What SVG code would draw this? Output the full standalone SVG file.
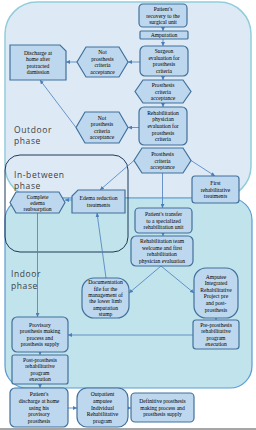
<svg xmlns="http://www.w3.org/2000/svg" width="256" height="430" viewBox="0 0 256 430">
<style>
.n{fill:#bdd7ee;stroke:#41719c;stroke-width:1.2}
.t{font-family:"Liberation Serif",serif;font-size:5.6px;text-anchor:middle;fill:#000}
.ph{font-family:"Open Sans","Liberation Sans",sans-serif;font-size:8.5px;fill:#404040;letter-spacing:0.6px}
.c{stroke:#4a7ebb;stroke-width:0.8;fill:none;marker-end:url(#a)}
</style>
<defs>
<marker id="a" markerUnits="userSpaceOnUse" markerWidth="4" markerHeight="4" refX="4" refY="2" orient="auto">
<path d="M0,0 L4,2 L0,4 z" fill="#4a7ebb"/>
</marker>
</defs>
<rect width="256" height="430" fill="#fff"/>
<g id="outdoor">
<rect x="5" y="2" width="246" height="196" rx="32" fill="#ddeaf6" stroke="#92cddc" stroke-width="1.5"/>
</g>
<g id="indoor">
<rect x="5" y="198" width="247" height="190" rx="22" fill="#c1e3eb" stroke="#5b9bd5" stroke-width="1.2"/>
</g>
<g id="inbetween">
<rect x="5" y="155" width="123" height="97" rx="15" fill="none" stroke="#1f3a5a" stroke-width="1"/>
</g>
<g id="labels">
<text class="ph" x="14" y="133">Outdoor</text>
<text class="ph" x="14" y="144">phase</text>
<text class="ph" x="14" y="178">In-between</text>
<text class="ph" x="14" y="189">phase</text>
<text class="ph" x="11" y="277">Indoor</text>
<text class="ph" x="11" y="289">phase</text>
</g>
<g id="connectors">
<line class="c" x1="163" y1="27" x2="163" y2="31"/>
<line class="c" x1="163" y1="39" x2="163" y2="46"/>
<line class="c" x1="163" y1="76" x2="163" y2="80"/>
<line class="c" x1="163" y1="103" x2="163" y2="107"/>
<line class="c" x1="140" y1="62" x2="128" y2="62"/>
<line class="c" x1="77" y1="62" x2="66" y2="62"/>
<line class="c" x1="139" y1="127.5" x2="128" y2="127.5"/>
<line class="c" x1="76" y1="127.5" x2="40" y2="80"/>
<line class="c" x1="191" y1="160.5" x2="215" y2="176"/>
<line class="c" x1="162.5" y1="173" x2="162.5" y2="208"/>
<line class="c" x1="134" y1="160.5" x2="100" y2="190"/>
<line class="c" x1="72" y1="200" x2="65" y2="200"/>
<line class="c" x1="37.5" y1="213" x2="37.5" y2="317"/>
<line class="c" x1="106" y1="278" x2="97" y2="213"/>
<line class="c" x1="163" y1="233" x2="163" y2="236"/>
<line class="c" x1="161" y1="266" x2="129" y2="293"/>
<line class="c" x1="161" y1="266" x2="194" y2="293"/>
<line class="c" x1="216" y1="318" x2="216" y2="320"/>
<line class="c" x1="193" y1="335" x2="68" y2="335"/>
<line class="c" x1="40" y1="352" x2="40" y2="355"/>
<line class="c" x1="40" y1="384" x2="40" y2="388"/>
<line class="c" x1="68" y1="408" x2="77" y2="408"/>
<line class="c" x1="128" y1="408" x2="131" y2="408"/>
</g>
<g id="n1"><rect class="n" x="139" y="4" width="48" height="23" rx="4"/>
<text class="t" x="163" y="10.9">Patient's</text><text class="t" x="163" y="17.5">recovery to the</text><text class="t" x="163" y="24.1">surgical unit</text></g>
<g id="n2"><rect class="n" x="140" y="31" width="48" height="8" rx="1"/>
<text class="t" x="164" y="37">Amputation</text></g>
<g id="n3"><rect class="n" x="140" y="46" width="48" height="30" rx="5"/>
<text class="t" x="164" y="53.1">Surgeon</text><text class="t" x="164" y="59.7">evaluation for</text><text class="t" x="164" y="66.3">prosthesis</text><text class="t" x="164" y="72.9">criteria</text></g>
<g id="n4"><polygon class="n" points="135,91.5 143,80 183,80 191,91.5 183,103 143,103"/>
<text class="t" x="163" y="86.9">Prosthesis</text><text class="t" x="163" y="93.5">criteria</text><text class="t" x="163" y="100.1">acceptance</text></g>
<g id="n5"><polygon class="n" points="77,62 86,47 119,47 128,62 119,77 86,77"/>
<text class="t" x="102.5" y="54.1">Not</text><text class="t" x="102.5" y="60.7">prosthesis</text><text class="t" x="102.5" y="67.3">criteria</text><text class="t" x="102.5" y="73.9">acceptance</text></g>
<g id="n6"><path class="n" d="M10,45 H60 L66,51 V80 H10 Z"/>
<text class="t" x="38" y="54.6">Discharge at</text><text class="t" x="38" y="61.2">home after</text><text class="t" x="38" y="67.8">protracted</text><text class="t" x="38" y="74.4">damission</text></g>
<g id="n7"><rect class="n" x="139" y="107" width="48" height="38" rx="5"/>
<text class="t" x="163" y="114.8">Rehabilitation</text><text class="t" x="163" y="121.4">physician</text><text class="t" x="163" y="128">evaluation for</text><text class="t" x="163" y="134.6">prosthesis</text><text class="t" x="163" y="141.2">criteria</text></g>
<g id="n8"><polygon class="n" points="76,127.5 85,112 119,112 128,127.5 119,143 85,143"/>
<text class="t" x="102" y="119.6">Not</text><text class="t" x="102" y="126.2">prosthesis</text><text class="t" x="102" y="132.8">criteria</text><text class="t" x="102" y="139.4">acceptance</text></g>
<g id="n9"><polygon class="n" points="134,160.5 142,148 183,148 191,160.5 183,173 142,173"/>
<text class="t" x="162.5" y="155.9">Prosthesis</text><text class="t" x="162.5" y="162.5">criteria</text><text class="t" x="162.5" y="169.1">acceptance</text></g>
<g id="n10"><rect class="n" x="192" y="176" width="47" height="27" rx="3"/>
<text class="t" x="215.5" y="184.9">First</text><text class="t" x="215.5" y="191.5">rehabilitative</text><text class="t" x="215.5" y="198.1">treatments</text></g>
<g id="n11"><path class="n" d="M78,190 H125 V213 H72 V196 Z"/>
<text class="t" x="98.5" y="200.2">Edema reduction</text><text class="t" x="98.5" y="206.8">treatments</text></g>
<g id="n12"><polygon class="n" points="10,202.5 16,192 59,192 65,202.5 59,213 16,213"/>
<text class="t" x="37.5" y="198.5">Complete</text><text class="t" x="37.5" y="204.5">edema</text><text class="t" x="37.5" y="210.5">reabsorption</text></g>
<g id="n13"><rect class="n" x="135" y="208" width="57" height="25" rx="4"/>
<text class="t" x="163.5" y="215.9">Patient's  transfer</text><text class="t" x="163.5" y="222.5">to a specialized</text><text class="t" x="163.5" y="229.1">rehabilitation unit</text></g>
<g id="n14"><rect class="n" x="131" y="236" width="62" height="30" rx="5"/>
<text class="t" x="162" y="243.1">Rehabilitation team</text><text class="t" x="162" y="249.7">welcome and first</text><text class="t" x="162" y="256.3">rehabilitation</text><text class="t" x="162" y="262.9">physician evaluation</text></g>
<g id="n15"><rect class="n" x="82" y="278" width="47" height="40" rx="12"/>
<text class="t" x="105.5" y="284.3">Documentation</text><text class="t" x="105.5" y="290.6">file for the</text><text class="t" x="105.5" y="296.9">management of</text><text class="t" x="105.5" y="303.2">the lower limb</text><text class="t" x="105.5" y="309.5">amputation</text><text class="t" x="105.5" y="315.8">stump</text></g>
<g id="n16"><rect class="n" x="194" y="268" width="44" height="50" rx="12"/>
<text class="t" x="216" y="278.5">Amputee</text><text class="t" x="216" y="285.1">Integrated</text><text class="t" x="216" y="291.7">Rehabilitative</text><text class="t" x="216" y="298.3">Project pre</text><text class="t" x="216" y="304.9">and post-</text><text class="t" x="216" y="311.5">prosthesis</text></g>
<g id="n17"><rect class="n" x="193" y="320" width="46" height="29" rx="3"/>
<text class="t" x="216" y="326.6">Pre-prosthesis</text><text class="t" x="216" y="333.2">rehabilitative</text><text class="t" x="216" y="339.8">program</text><text class="t" x="216" y="346.4">execution</text></g>
<g id="n18"><rect class="n" x="12" y="317" width="56" height="35" rx="5"/>
<text class="t" x="40" y="326.6">Provisory</text><text class="t" x="40" y="333.2">prosthesis making</text><text class="t" x="40" y="339.8">process and</text><text class="t" x="40" y="346.4">prosthesis supply</text></g>
<g id="n19"><rect class="n" x="12" y="355" width="56" height="29" rx="2"/>
<text class="t" x="40" y="361.6">Post-prosthesis</text><text class="t" x="40" y="368.2">rehabilitative</text><text class="t" x="40" y="374.8">program</text><text class="t" x="40" y="381.4">execution</text></g>
<g id="n20"><rect class="n" x="10" y="388" width="58" height="39" rx="5"/>
<text class="t" x="39" y="396.3">Patient's</text><text class="t" x="39" y="402.9">discharge at home</text><text class="t" x="39" y="409.5">using his</text><text class="t" x="39" y="416.1">provisory</text><text class="t" x="39" y="422.7">prosthesis</text></g>
<g id="n21"><rect class="n" x="77" y="388" width="51" height="39" rx="10"/>
<text class="t" x="102.5" y="396.3">Outpatient</text><text class="t" x="102.5" y="402.9">amputee</text><text class="t" x="102.5" y="409.5">Individual</text><text class="t" x="102.5" y="416.1">Rehabilitative</text><text class="t" x="102.5" y="422.7">program</text></g>
<g id="n22"><rect class="n" x="131" y="393" width="63" height="29" rx="4"/>
<text class="t" x="162.5" y="402.9">Definitive prosthesis</text><text class="t" x="162.5" y="409.5">making process and</text><text class="t" x="162.5" y="416.1">prosthesis supply</text></g>
<line x1="0" y1="429" x2="256" y2="429" stroke="#888" stroke-width="1.5"/>
</svg>
